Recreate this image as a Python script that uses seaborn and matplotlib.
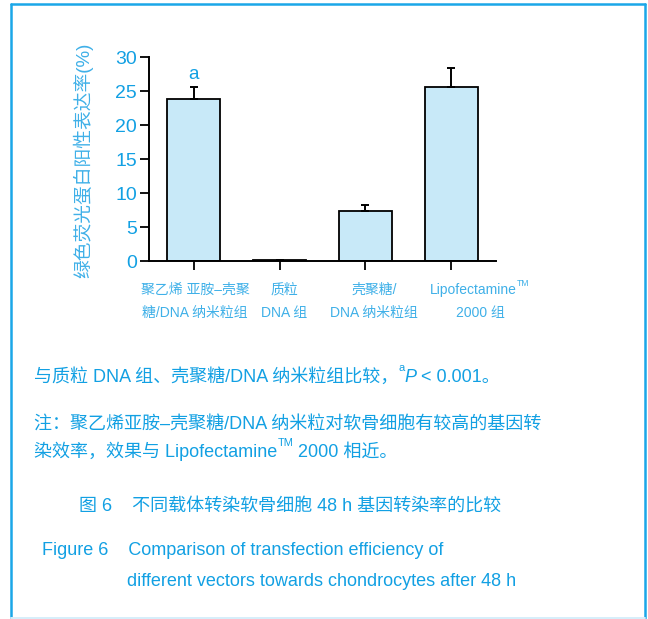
import matplotlib
matplotlib.use("Agg")
import matplotlib.pyplot as plt
from matplotlib.transforms import IdentityTransform
from matplotlib.lines import Line2D
import seaborn as sns
import pandas as pd

# ---- data ----
groups = ["聚乙烯亚胺–壳聚糖/DNA 纳米粒组", "质粒 DNA 组", "壳聚糖/DNA 纳米粒组", "Lipofectamine™ 2000 组"]
rates = [23.8, 0.2, 7.4, 25.6]
sd = [1.8, 0.0, 0.9, 2.8]
yticks = [0, 5, 10, 15, 20, 25, 30]
tick_lines = [
    [[("聚乙烯 亚胺–壳聚", 0)], [("糖/DNA 纳米粒组", 0)]],
    [[("质粒", 0)], [("DNA 组", 0)]],
    [[("壳聚糖/", 0)], [("DNA 纳米粒组", 0)]],
    [[("Lipofectamine", 0), ("TM", 1)], [("2000 组", 0)]],
]
sig_mark = "a"
ylabel = "绿色荧光蛋白阳性表达率(%)"

# layout: horizontal centres (px) of the two-line group labels
label_centres = [195, 284, 374, 480]

BLUE = "#12A0E3"
LIGHT_BLUE = "#3FB0E8"
BAR_FILL = "#C8E9F8"
FONTS = ["Liberation Sans", "Noto Sans CJK SC"]

sns.set_theme(style="ticks")
plt.rcParams["font.family"] = FONTS

W, H = 648, 619
fig = plt.figure(figsize=(W / 100, H / 100), dpi=100)
fig.patch.set_facecolor("white")


def px(x, y_top):
    return x / W, 1 - y_top / H


# outer frame of the figure panel (bottom edge is a pale rule)
frame = "#1AA7E8"
for (x0, y0), (x1, y1), col, lw in [
    ((11, 618), (11, 4), frame, 1.8),
    ((11, 4), (645, 4), frame, 1.8),
    ((645, 4), (645, 618), frame, 1.8),
    ((11, 618), (645, 618), "#D6EEFA", 1.4),
]:
    a, b = px(x0, y0), px(x1, y1)
    fig.lines.append(Line2D([a[0], b[0]], [a[1], b[1]], transform=fig.transFigure,
                            color=col, linewidth=lw))

ax = fig.add_axes([149 / W, 1 - 261 / H, (496 - 149) / W, (261 - 57.3) / H])
df = pd.DataFrame({"group": groups, "rate": rates})
sns.barplot(data=df, x="group", y="rate", order=groups, color=BAR_FILL,
            saturation=1, edgecolor="black", linewidth=1.3, width=0.62,
            errorbar=None, ax=ax)
ax.errorbar(range(len(groups)), rates, yerr=[[0] * len(sd), sd], fmt="none",
            ecolor="black", elinewidth=1.4, capsize=3, capthick=1.4, zorder=1)
ax.text(0, rates[0] + sd[0] + 0.6, sig_mark, ha="center", va="bottom",
        fontsize=13.5, color=BLUE)

ax.set_xlim(-0.52, 3.52)
ax.set_ylim(0, 30)
ax.set_yticks(yticks)
ax.set_yticklabels([str(t) for t in yticks])
ax.set_xticklabels([""] * len(groups))
ax.set_xlabel("")
ax.set_ylabel("")
for s in ("top", "right"):
    ax.spines[s].set_visible(False)
for s in ("left", "bottom"):
    ax.spines[s].set_linewidth(1.4)
    ax.spines[s].set_color("black")
ax.tick_params(axis="both", direction="out", length=6.5, width=1.3, color="black")
ax.tick_params(axis="y", labelsize=14, labelcolor=BLUE, pad=2)
ax.set_facecolor("white")

fig.text(83 / W, 1 - 160 / H, ylabel, rotation=90, ha="center", va="center",
         fontsize=13.5, color=LIGHT_BLUE)

renderer = fig.canvas.get_renderer()


def put_runs(runs, x, y_top, size, color, ha="left", family=None):
    """Draw consecutive text pieces on one baseline (pixel coordinates, y from top)."""
    y = H - y_top
    fam = family or FONTS
    made = []
    for txt, kind in runs:
        kw = dict(color=color, va="baseline", transform=IdentityTransform(), family=fam)
        if kind == 1:
            t = fig.text(0, 0, txt, fontsize=size * 0.62, **kw)
            rise = size * 0.6 * 100 / 72
        elif kind == 2:
            t = fig.text(0, 0, txt, fontsize=size, style="italic", **kw)
            rise = 0
        else:
            t = fig.text(0, 0, txt, fontsize=size, **kw)
            rise = 0
        w = t.get_window_extent(renderer).width
        made.append((t, w, rise))
    total = sum(m[1] for m in made)
    x0 = x - total / 2 if ha == "center" else x
    for t, w, rise in made:
        t.set_position((x0, y + rise))
        x0 += w


# group labels under the bars
for xc, lines in zip(label_centres, tick_lines):
    put_runs(lines[0], xc, 294, 10, LIGHT_BLUE, ha="center")
    put_runs(lines[1], xc, 317, 10, LIGHT_BLUE, ha="center")

# footnotes
put_runs([("与质粒 DNA 组、壳聚糖/DNA 纳米粒组比较，", 0), ("a", 1), ("P", 2), (" < 0.001。", 0)],
         34, 382, 13, BLUE)
put_runs([("注：聚乙烯亚胺–壳聚糖/DNA 纳米粒对软骨细胞有较高的基因转", 0)], 34, 430, 13, BLUE)
put_runs([("染效率，效果与 Lipofectamine", 0), ("TM", 1), (" 2000 相近。", 0)], 34, 457, 13, BLUE)

# captions
put_runs([("图 6    不同载体转染软骨细胞 48 h 基因转染率的比较", 0)], 79, 511, 13, BLUE)
put_runs([("Figure 6    Comparison of transfection efficiency of", 0)], 42, 555, 13, BLUE)
put_runs([("different vectors towards chondrocytes after 48 h", 0)], 127, 586, 13, BLUE)

fig.savefig("out.png", dpi=100)
